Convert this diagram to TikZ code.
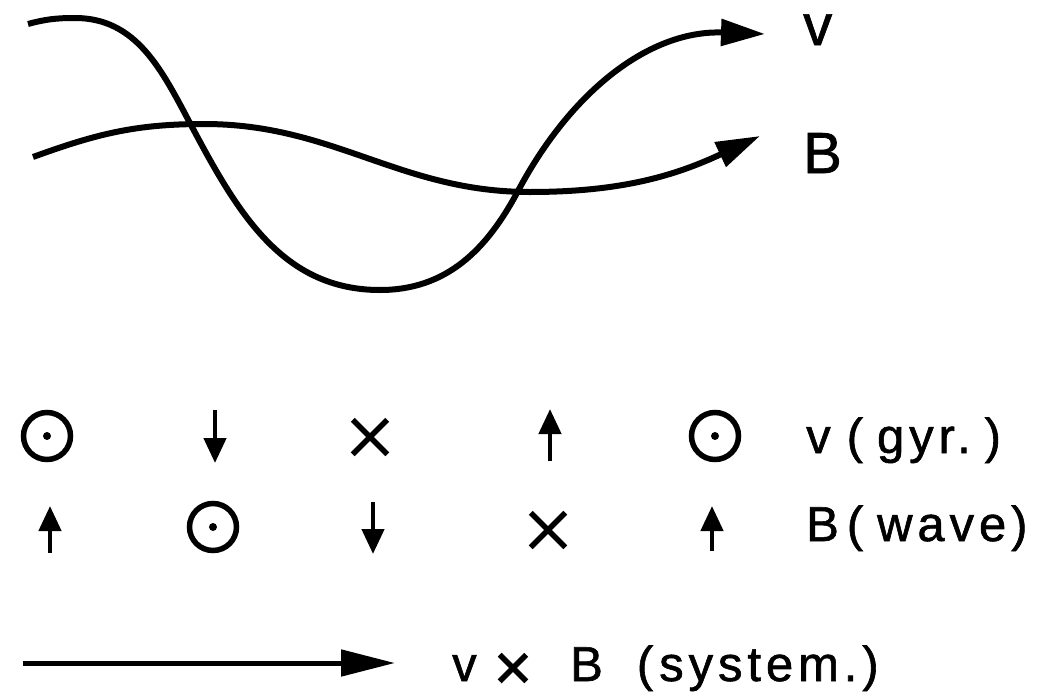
\documentclass[tikz,border=0pt]{standalone}
\usepackage{fontspec}
\newfontfamily\lettering[LetterSpace=10,FakeBold=1.2]{Liberation Sans}
\newfontfamily\bigletter[FakeBold=1.2]{Liberation Sans}
\usetikzlibrary{arrows.meta,shapes.misc}
\tikzset{
  wave/.style={line width=6pt,-{Triangle[length=44pt,width=26pt]}},
  vec/.style={line width=4.5pt,-{Triangle[length=25pt,width=22pt]}},
  sysarrow/.style={line width=5pt,-{Triangle[length=54pt,width=26pt]}},
  dotsym/.style={circle,draw,line width=5.5pt,minimum size=47pt,inner sep=0pt,
                 path picture={\fill (path picture bounding box.center) circle (4);}},
  crosssym/.style={cross out,draw,line width=5.5pt,minimum size=29pt,inner sep=0pt},
  toplbl/.style={font=\bigletter\fontsize{58}{62}\selectfont,anchor=base west,inner sep=0pt},
  lbl/.style={font=\lettering\fontsize{49}{52}\selectfont,anchor=base west,inner sep=0pt},
}
\begin{document}
\begin{tikzpicture}[x=1pt,y=1pt]
  \useasboundingbox (0,0) rectangle (1063,-696);

  % the two waves
  \coordinate (vstart) at (28,-24);
  \coordinate (vtip) at (765,-34);
  \coordinate (bstart) at (33,-157);
  \coordinate (btip) at (760,-136);
  \draw[wave] (vstart) to[out=15,in=180] (75,-18) to[out=0,in=118] (191,-125)
      to[out=-62,in=180] (380,-290) to[out=0,in=-118] (518,-191)
      to[out=62,in=178] (vtip);
  \draw[wave] (bstart) to[out=20,in=180] (204,-124) to[out=0,in=180] (530,-192)
      to[out=0,in=205] (btip);
  \node[toplbl] (vlbl) at (803,-45) {v};
  \node[toplbl] (blbl) at (803,-173) {B};

  % v (gyr.)
  \node[dotsym] (v1) at (47,-436) {};
  \coordinate (v2) at (215,-436);
  \draw[vec] ([yshift=26]v2) -- ([yshift=-27]v2);
  \node[crosssym] (v3) at (370,-437) {};
  \coordinate (v4) at (550,-436);
  \draw[vec] ([yshift=-25]v4) -- ([yshift=27]v4);
  \node[dotsym] (v5) at (715,-436) {};
  \node[lbl] (vgyr) at (806,-453) {v\hspace{16pt}(\hspace{14pt}gyr.\hspace{14pt})};

  % B (wave)
  \coordinate (b1) at (50,-529);
  \draw[vec] ([yshift=-24]b1) -- ([yshift=23]b1);
  \node[dotsym] (b2) at (213,-527) {};
  \coordinate (b3) at (373,-528);
  \draw[vec] ([yshift=26]b3) -- ([yshift=-26]b3);
  \node[crosssym] (b4) at (548,-530) {};
  \coordinate (b5) at (712,-529);
  \draw[vec] ([yshift=-22]b5) -- ([yshift=23]b5);
  \node[lbl] (bwave) at (806,-541) {B\hspace{8pt}(\hspace{14pt}wave)};

  % v x B
  \coordinate (sysstart) at (23,-663);
  \coordinate (sysend) at (395,-663);
  \draw[sysarrow] (sysstart) -- (sysend);
  \node[lbl] (vxb) at (452,-681) {v\hspace{17pt}\raisebox{-9pt}[0pt][0pt]{\fontsize{66}{66}\selectfont×}\hspace{38pt}B\hspace{34pt}(\hspace{6pt}system.)};
\end{tikzpicture}
\end{document}
